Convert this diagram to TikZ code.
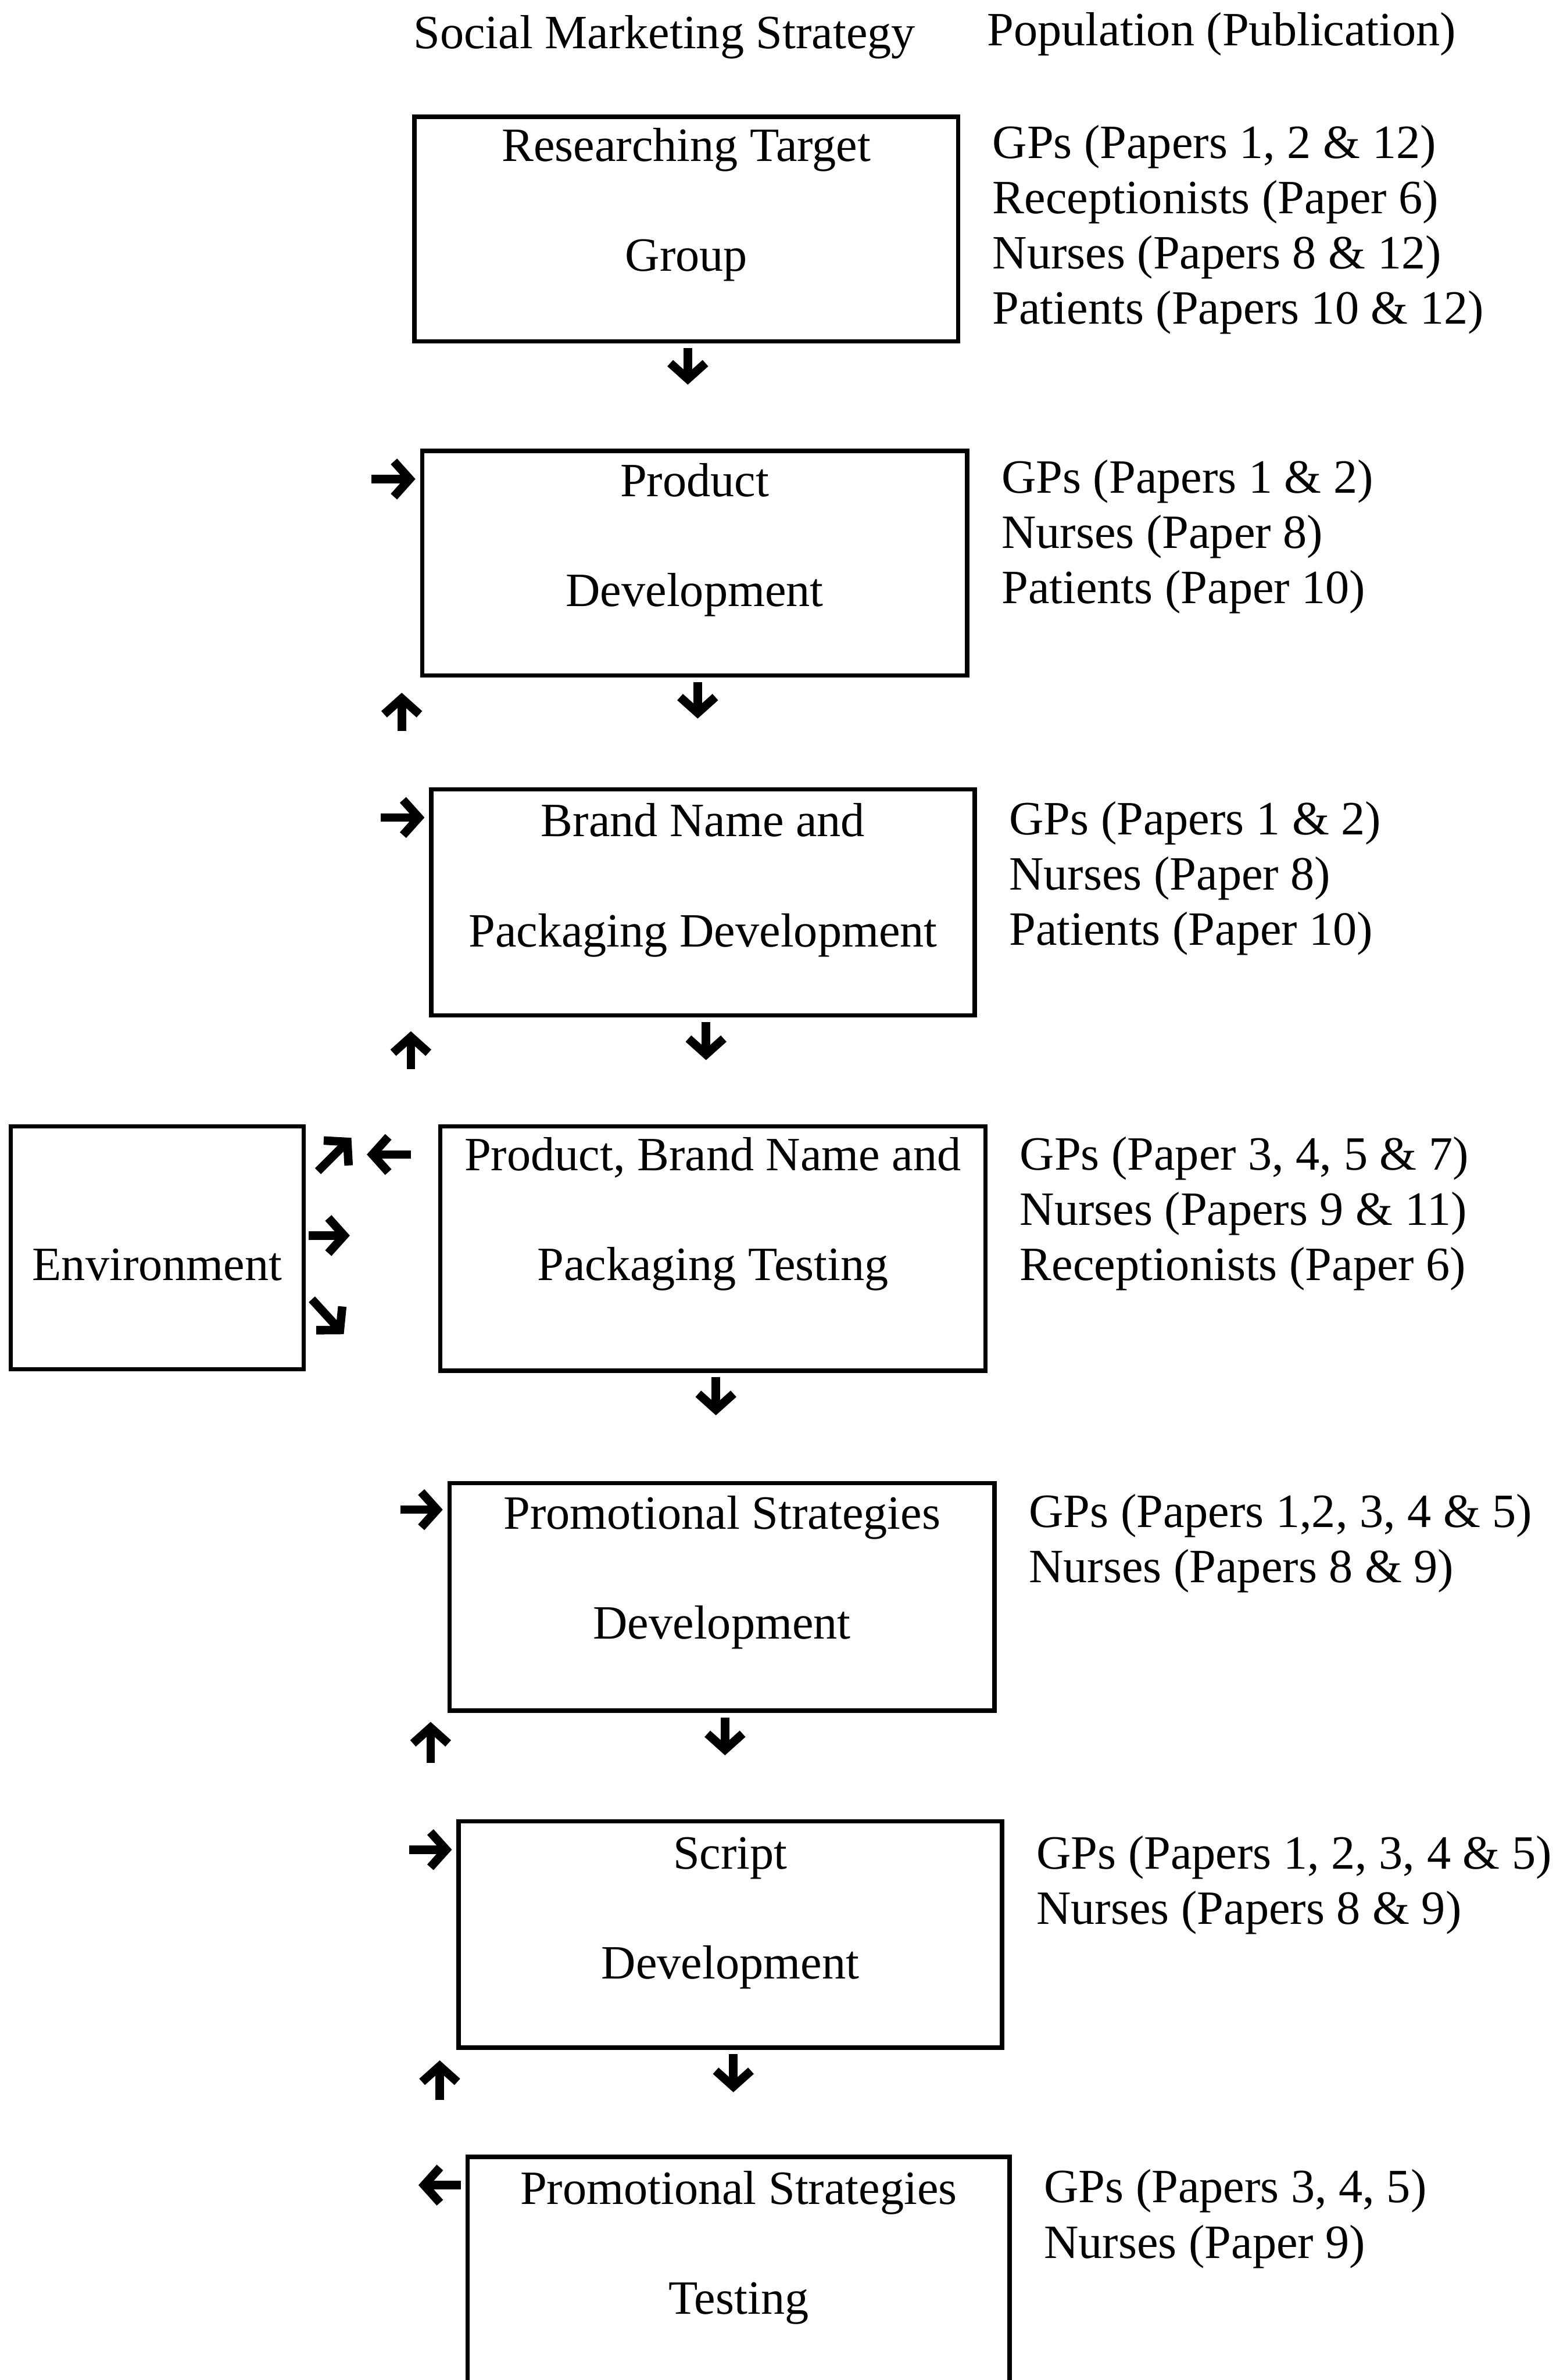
\documentclass[tikz,border=0pt]{standalone}
\usepackage{fontspec}
\setmainfont{Liberation Serif}
\usetikzlibrary{arrows.meta,calc,fit}
\tikzset{
  box/.style={draw, line width=2pt, inner sep=0pt},
  boxtext/.style={align=center, anchor=base, inner sep=0pt},
  poptext/.style={align=left, anchor=base west, inner sep=0pt},
  flow/.style={line width=1.4mm, -{Straight Barb[length=2.6mm,width=5.8mm]}},
}
\begin{document}
\begin{tikzpicture}[x=0.25mm, y=-0.25mm, font=\fontsize{22.4pt}{25.9pt}\selectfont]
  \useasboundingbox (0,0) rectangle (1032,1568);
  % headings
  \node[poptext] (hstrat) at (272,32) {Social Marketing Strategy};
  \node[poptext] (hpop) at (650,30) {Population (Publication)};
  % strategy boxes
  \node[box, fit={(273,77) (631,225)}] (b1) {};
  \node[box, fit={(278,297) (637,445)}] (b2) {};
  \node[box, fit={(284,520) (642,669)}] (b3) {};
  \node[box, fit={(290,742) (649,903)}] (b4) {};
  \node[box, fit={(296,977) (655,1127)}] (b5) {};
  \node[box, fit={(302,1200) (660,1349)}] (b6) {};
  \node[box, fit={(308,1421) (665,1610)}] (b7) {};
  \node[box, fit={(7,742) (200,902)}] (env) {};
  % box texts (base = last line)
  \node[boxtext] (b1t) at ($(b1.north)+(0,103)$) {Researching Target\\[25.6pt]Group};
  \node[boxtext] (b2t) at ($(b2.north)+(0,104)$) {Product\\[25.6pt]Development};
  \node[boxtext] (b3t) at ($(b3.north)+(0,105)$) {Brand Name and\\[25.6pt]Packaging Development};
  \node[boxtext] (b4t) at ($(b4.north)+(0,103)$) {Product, Brand Name and\\[25.6pt]Packaging Testing};
  \node[boxtext] (b5t) at ($(b5.north)+(0,104)$) {Promotional Strategies\\[25.6pt]Development};
  \node[boxtext] (b6t) at ($(b6.north)+(0,105)$) {Script\\[25.6pt]Development};
  \node[boxtext] (b7t) at ($(b7.north)+(0,105)$) {Promotional Strategies\\[25.6pt]Testing};
  \node[boxtext] (envt) at ($(env.north)+(0,103)$) {Environment};
  % populations
  \node[poptext] (p1) at ($(b1.north east)+(21,138)$) {GPs (Papers 1, 2 \& 12)\\Receptionists (Paper 6)\\Nurses (Papers 8 \& 12)\\Patients (Papers 10 \& 12)};
  \node[poptext] (p2) at ($(b2.north east)+(21,102)$) {GPs (Papers 1 \& 2)\\Nurses (Paper 8)\\Patients (Paper 10)};
  \node[poptext] (p3) at ($(b3.north east)+(21,104)$) {GPs (Papers 1 \& 2)\\Nurses (Paper 8)\\Patients (Paper 10)};
  \node[poptext] (p4) at ($(b4.north east)+(21,103)$) {GPs (Paper 3, 4, 5 \& 7)\\Nurses (Papers 9 \& 11)\\Receptionists (Paper 6)};
  \node[poptext] (p5) at ($(b5.north east)+(21,67)$) {GPs (Papers 1,2, 3, 4 \& 5)\\Nurses (Papers 8 \& 9)};
  \node[poptext] (p6) at ($(b6.north east)+(21,69)$) {GPs (Papers 1, 2, 3, 4 \& 5)\\Nurses (Papers 8 \& 9)};
  \node[poptext] (p7) at ($(b7.north east)+(21,68)$) {GPs (Papers 3, 4, 5)\\Nurses (Paper 9)};
  % down arrows
  \draw[flow] ($(b1.south)+(1,3)$) -- ++(0,24);
  \draw[flow] ($(b2.south)+(2,3)$) -- ++(0,24);
  \draw[flow] ($(b3.south)+(2,3)$) -- ++(0,25);
  \draw[flow] ($(b4.south)+(2,3)$) -- ++(0,25);
  \draw[flow] ($(b5.south)+(2,3)$) -- ++(0,25);
  \draw[flow] ($(b6.south)+(2,3)$) -- ++(0,25);
  % side arrows
  \draw[flow] ($(b2.north west)+(-32,20)$) -- ++(29,0);
  \draw[flow] ($(b3.north west)+(-32,20)$) -- ++(29,0);
  \draw[flow] ($(b5.north west)+(-31,19)$) -- ++(28,0);
  \draw[flow] ($(b6.north west)+(-31,20)$) -- ++(28,0);
  \draw[flow] ($(b4.north west)+(-18,20)$) -- ++(-29,0);
  \draw[flow] ($(b7.north west)+(-3,20)$) -- ++(-28,0);
  \draw[flow] ($(b2.south west)+(-12,35)$) -- ++(0,-25);
  \draw[flow] ($(b3.south west)+(-12,34)$) -- ++(0,-25);
  \draw[flow] ($(b5.south west)+(-11,33)$) -- ++(0,-27);
  \draw[flow] ($(b6.south west)+(-11,33)$) -- ++(0,-26);
  % environment arrows
  \draw[flow] ($(env.north east)+(8,31)$) -- ++(22,-22);
  \draw[flow] ($(env.east)+(2,-8)$) -- ++(27,0);
  \draw[flow] ($(env.east)+(4,34)$) -- ++(21,23);
\end{tikzpicture}
\end{document}
